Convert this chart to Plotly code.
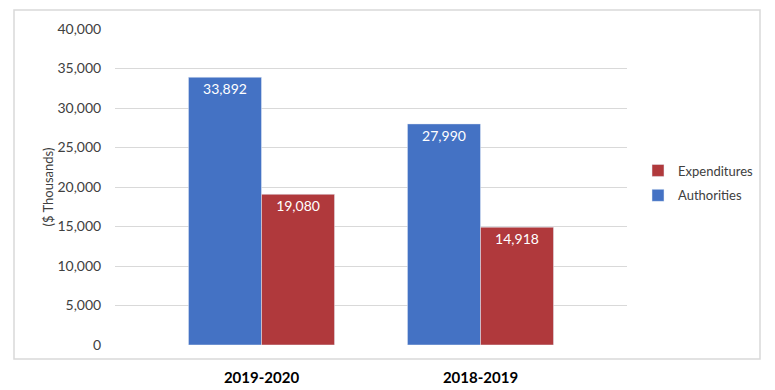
import plotly.graph_objects as go

categories = ["2019-2020", "2018-2019"]
authorities = [33892, 27990]
expenditures = [19080, 14918]

BLUE = "#4472C4"
RED = "#B0393C"
FONT = "Lato"

fig = go.Figure()
fig.add_trace(go.Bar(
    x=categories, y=authorities, name="Authorities", marker_color=BLUE,
    legendgroup="a", legendrank=2,
    text=[f"{v:,}" for v in authorities], textposition="inside",
    insidetextanchor="end", textfont=dict(color="white", size=14, family=FONT),
))
fig.add_trace(go.Bar(
    x=categories, y=expenditures, name="Expenditures", marker_color=RED,
    legendgroup="e", legendrank=1,
    text=[f"{v:,}" for v in expenditures], textposition="inside",
    insidetextanchor="end", textfont=dict(color="white", size=14, family=FONT),
))

OFF = 8  # page body margin
W, H = 775 - OFF, 390 - OFF
# target plot area in window pixels: x 115..627, y 29..345
L, R, T, B = 115 - OFF, 775 - 627, 29 - OFF, 390 - 345
pw, ph = W - L - R, H - T - B

def px_x(x):
    return (x - OFF - L) / pw

def px_y(y):
    return (H - B - (y - OFF)) / ph

fig.update_layout(
    width=W, height=H,
    margin=dict(l=L, r=R, t=T, b=B, autoexpand=False),
    paper_bgcolor="white", plot_bgcolor="white",
    barmode="group", bargap=0.333, bargroupgap=0,
    font=dict(family=FONT, color="#404040", size=13),
    showlegend=True,
    legend=dict(x=px_x(638), y=px_y(183), xanchor="left", yanchor="middle",
                traceorder="grouped", font=dict(size=13, color="#404040", family=FONT),
                itemwidth=30, tracegroupgap=5),
    uniformtext=dict(mode="show", minsize=13),
    xaxis=dict(range=[-0.669, 1.669], showgrid=False, zeroline=False, showline=False,
               ticks="outside", ticklen=19, tickcolor="rgba(0,0,0,0)",
               tickfont=dict(size=15, color="#000000", family=FONT, weight="bold"),
               fixedrange=True, automargin=False),
    yaxis=dict(range=[0, 40000], dtick=5000, tickformat=",", showgrid=True,
               gridcolor="#D9D9D9", gridwidth=1, zeroline=False, showline=False,
               ticks="outside", ticklen=10, tickcolor="rgba(0,0,0,0)",
               tickfont=dict(size=14, color="#404040"), automargin=False,
               title=dict(text="($ Thousands)", font=dict(size=13, color="#404040"), standoff=0)),
    shapes=[dict(type="rect", xref="paper", yref="paper",
                 x0=px_x(14), x1=px_x(760), y0=px_y(359), y1=px_y(10),
                 line=dict(color="#D9D9D9", width=1.5), fillcolor="rgba(0,0,0,0)", layer="below")],
)

fig.write_html("out.html")
